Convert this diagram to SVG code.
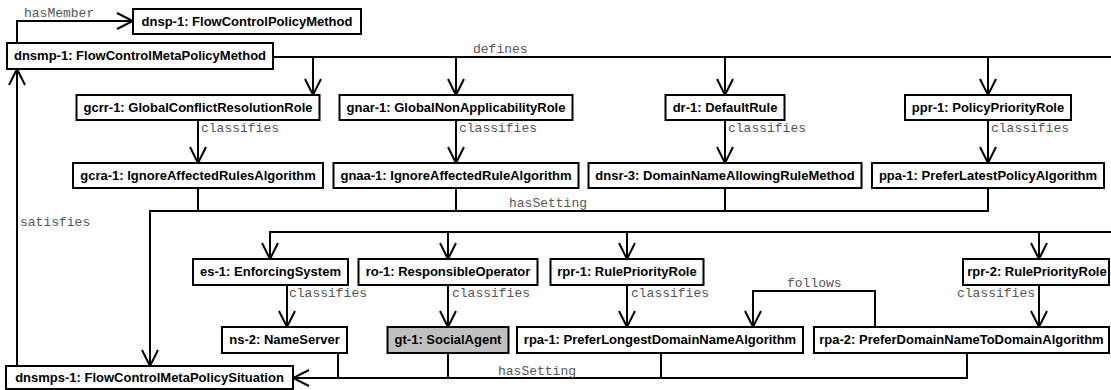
<svg xmlns="http://www.w3.org/2000/svg" width="1111" height="390" viewBox="0 0 1111 390">
  <defs>
    <style>
      .node rect { fill: #ffffff; stroke: #000000; stroke-width: 2; }
      .node.agent rect { fill: #c0c0c0; }
      .node text { font-family: "Liberation Sans", Arial, sans-serif; font-size: 13px; font-weight: bold; fill: #000000; text-anchor: middle; }
      .edges path { fill: none; stroke: #000000; stroke-width: 2; }
      .edges .arrow { marker-end: url(#open); }
      .lbl { font-family: "Liberation Mono", "Courier New", monospace; font-size: 13px; fill: #555555; }
      .lbl.end { text-anchor: end; }
    </style>
    <marker id="open" viewBox="-18 -10 20 20" markerWidth="20" markerHeight="20" refX="0" refY="0" orient="auto" markerUnits="userSpaceOnUse">
      <path d="M-16,-8 L0,0 L-16,8" fill="none" stroke="#000000" stroke-width="2"/>
    </marker>
  </defs>

  <!-- connectors -->
  <g id="connectors" class="edges">
    <!-- hasMember -->
    <path class="arrow" d="M17,43 V21 H133"/>
    <!-- defines -->
    <path d="M273,57 H1111"/>
    <path class="arrow" d="M313,57 V95"/>
    <path class="arrow" d="M456,57 V95"/>
    <path class="arrow" d="M725,57 V95"/>
    <path class="arrow" d="M988,57 V95"/>
    <!-- classifies (roles to algorithms) -->
    <path class="arrow" d="M198,120 V163"/>
    <path class="arrow" d="M456,120 V163"/>
    <path class="arrow" d="M725,120 V163"/>
    <path class="arrow" d="M988,120 V163"/>
    <!-- hasSetting (upper) -->
    <path d="M198,188 V211"/>
    <path d="M456,188 V211"/>
    <path d="M725,188 V211"/>
    <path class="arrow" d="M988,188 V211 H150 V366"/>
    <!-- satisfies -->
    <path class="arrow" d="M17,366 V69"/>
    <!-- second trunk -->
    <path class="arrow" d="M1111,232 H270 V259"/>
    <path class="arrow" d="M448,232 V259"/>
    <path class="arrow" d="M627,232 V259"/>
    <path class="arrow" d="M1039,232 V259"/>
    <!-- classifies (lower) -->
    <path class="arrow" d="M287,285 V327"/>
    <path class="arrow" d="M448,285 V327"/>
    <path class="arrow" d="M627,285 V327"/>
    <path class="arrow" d="M1039,285 V327"/>
    <!-- follows -->
    <path class="arrow" d="M875,327 V291 H753 V327"/>
    <!-- hasSetting (lower) -->
    <path d="M338,353 V378"/>
    <path d="M448,353 V378"/>
    <path d="M661,353 V378"/>
    <path class="arrow" d="M967,353 V378 H293"/>

    <text class="lbl" x="24" y="17">hasMember</text>
    <text class="lbl" x="473" y="53">defines</text>
    <text class="lbl" x="201" y="132">classifies</text>
    <text class="lbl" x="459" y="132">classifies</text>
    <text class="lbl" x="728" y="132">classifies</text>
    <text class="lbl" x="991" y="132">classifies</text>
    <text class="lbl" x="509" y="207">hasSetting</text>
    <text class="lbl" x="20" y="226">satisfies</text>
    <text class="lbl" x="289" y="297">classifies</text>
    <text class="lbl" x="452" y="297">classifies</text>
    <text class="lbl" x="631" y="297">classifies</text>
    <text class="lbl end" x="1035" y="297">classifies</text>
    <text class="lbl" x="787" y="287">follows</text>
    <text class="lbl" x="498" y="375">hasSetting</text>
  </g>

  <!-- nodes -->
  <g id="dnsp-1" class="node"><rect x="133" y="9" width="228" height="25"/><text x="247" y="26">dnsp-1: FlowControlPolicyMethod</text></g>
  <g id="dnsmp-1" class="node"><rect x="7" y="43" width="266" height="26"/><text x="140" y="60">dnsmp-1: FlowControlMetaPolicyMethod</text></g>

  <g id="gcrr-1" class="node"><rect x="76.5" y="95" width="243" height="25"/><text x="198" y="112">gcrr-1: GlobalConflictResolutionRole</text></g>
  <g id="gnar-1" class="node"><rect x="339.5" y="95" width="233" height="25"/><text x="456" y="112">gnar-1: GlobalNonApplicabilityRole</text></g>
  <g id="dr-1" class="node"><rect x="665.5" y="95" width="119" height="25"/><text x="725" y="112">dr-1: DefaultRule</text></g>
  <g id="ppr-1" class="node"><rect x="905" y="95" width="166" height="25"/><text x="988" y="112">ppr-1: PolicyPriorityRole</text></g>

  <g id="gcra-1" class="node"><rect x="73" y="163" width="250" height="25"/><text x="198" y="180">gcra-1: IgnoreAffectedRulesAlgorithm</text></g>
  <g id="gnaa-1" class="node"><rect x="333.5" y="163" width="245" height="25"/><text x="456" y="180">gnaa-1: IgnoreAffectedRuleAlgorithm</text></g>
  <g id="dnsr-3" class="node"><rect x="588.5" y="163" width="273" height="25"/><text x="725" y="180">dnsr-3: DomainNameAllowingRuleMethod</text></g>
  <g id="ppa-1" class="node"><rect x="872" y="163" width="232" height="25"/><text x="988" y="180">ppa-1: PreferLatestPolicyAlgorithm</text></g>

  <g id="es-1" class="node"><rect x="193" y="259" width="155" height="26"/><text x="270.5" y="276">es-1: EnforcingSystem</text></g>
  <g id="ro-1" class="node"><rect x="358.5" y="259" width="179" height="26"/><text x="448" y="276">ro-1: ResponsibleOperator</text></g>
  <g id="rpr-1" class="node"><rect x="550.5" y="259" width="153" height="26"/><text x="627" y="276">rpr-1: RulePriorityRole</text></g>
  <g id="rpr-2" class="node"><rect x="963" y="259" width="146" height="26"/><text x="1037" y="276">rpr-2: RulePriorityRole</text></g>

  <g id="ns-2" class="node"><rect x="222" y="327" width="125" height="26"/><text x="284.5" y="344">ns-2: NameServer</text></g>
  <g id="gt-1" class="node agent"><rect x="387.5" y="327" width="121" height="26"/><text x="448" y="344">gt-1: SocialAgent</text></g>
  <g id="rpa-1" class="node"><rect x="517" y="327" width="286" height="26"/><text x="660" y="344">rpa-1: PreferLongestDomainNameAlgorithm</text></g>
  <g id="rpa-2" class="node"><rect x="814" y="327" width="295" height="26"/><text x="961.5" y="344">rpa-2: PreferDomainNameToDomainAlgorithm</text></g>

  <g id="dnsmps-1" class="node"><rect x="6" y="366" width="287" height="23"/><text x="149.5" y="382">dnsmps-1: FlowControlMetaPolicySituation</text></g>
</svg>
